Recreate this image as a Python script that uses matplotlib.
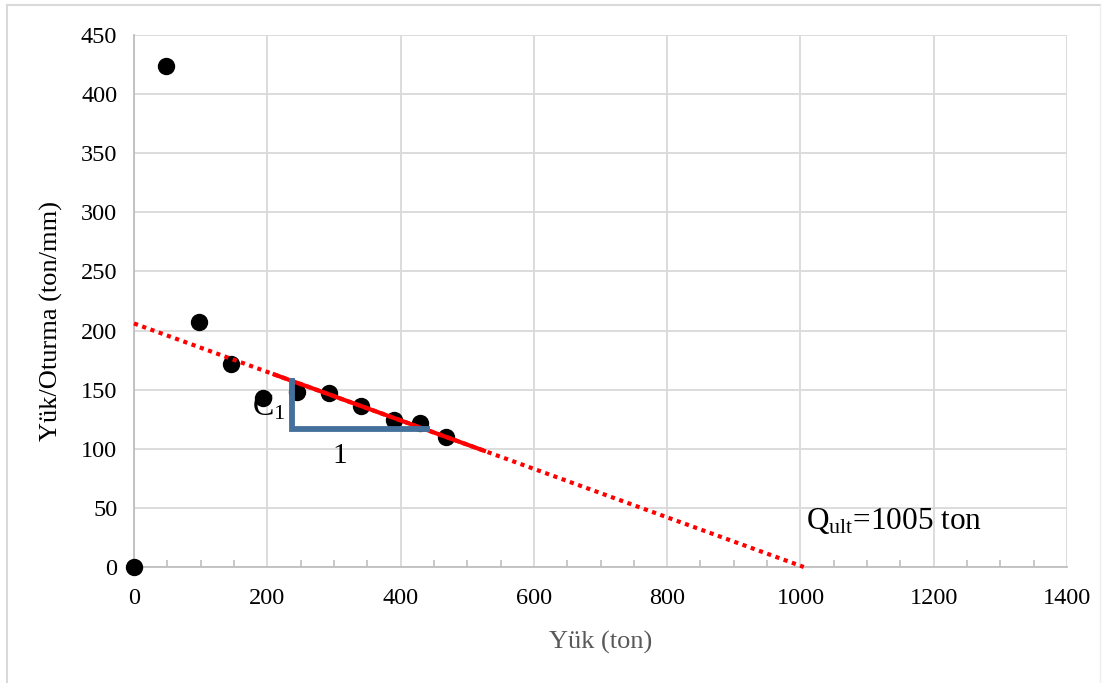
import matplotlib
matplotlib.use("Agg")
import matplotlib.pyplot as plt
from matplotlib.lines import Line2D
import numpy as np

# Load test: applied load (ton) vs. load/settlement ratio (ton/mm)
yuk = [0, 48, 97, 146, 194, 244, 292, 341, 390, 429, 468]
yuk_oturma = [0, 424, 207, 172, 143, 148, 147, 136, 124, 122, 110]

# Fitted straight line (Chin method): intercept on the ratio axis and the load where it reaches zero
intercept = 206
q_ult = 1005
fit_start, fit_end = 208, 528

# Slope triangle
tri_x = [237, 237, 444]
tri_y = [160, 116.5, 116.5]

x_ticks = list(range(0, 1401, 200))
y_ticks = list(range(0, 451, 50))

plt.rcParams["font.family"] = ["Liberation Serif", "DejaVu Serif"]
plt.rcParams["mathtext.fontset"] = "custom"
plt.rcParams["mathtext.rm"] = "Liberation Serif"
plt.rcParams["mathtext.it"] = "Liberation Serif:italic"

W, H = 1103, 683
fig = plt.figure(figsize=(W / 100, H / 100), dpi=100)
ax = fig.add_axes([134 / W, 1 - 567 / H, (1067 - 134) / W, (567 - 35) / H])

grid_c = "#d9d9d9"
ax.set_xlim(0, 1400)
ax.set_ylim(0, 450)
ax.set_xticks(x_ticks)
ax.set_yticks(y_ticks)
ax.set_xticks(np.arange(0, 1401, 50), minor=True)
ax.grid(True, which="major", color=grid_c, lw=1.3)
ax.set_axisbelow(True)
for s in ["top", "right"]:
    ax.spines[s].set_visible(False)
for s in ["left", "bottom"]:
    ax.spines[s].set_color("#bfbfbf")
    ax.spines[s].set_linewidth(1.3)
ax.tick_params(axis="both", which="major", length=0, labelsize=17.5, labelcolor="black")
ax.tick_params(axis="x", which="major", pad=15)
ax.tick_params(axis="y", which="major", pad=12)
ax.tick_params(axis="x", which="minor", direction="in", length=5, color="#bfbfbf", width=1.2)

# Fitted line: dotted across the whole range, solid over the fitted span
xs = np.array([0, q_ult])
ax.plot(xs, intercept * (1 - xs / q_ult), color="#ff0000", lw=3,
        linestyle=(0, (1, 1.1)), solid_capstyle="butt", zorder=4, clip_on=False)
xf = np.array([fit_start, fit_end])
ax.plot(xf, intercept * (1 - xf / q_ult), color="#ff0000", lw=3,
        solid_capstyle="butt", zorder=5)

ax.plot(yuk, yuk_oturma, "o", color="black", ms=11.5, zorder=3, clip_on=False)

ax.plot(tri_x, tri_y, color="#44709c", lw=4.2, solid_joinstyle="miter",
        solid_capstyle="butt", zorder=6)

ax.text(177, 128, r"C$_{\mathregular{1}}$", fontsize=23, zorder=7)
ax.text(309, 88, "1", fontsize=21, ha="center", va="baseline", zorder=7)
ax.text(1009, 32, r"Q$_{\mathregular{ult}}$=1005 ton", fontsize=22.5, va="baseline", zorder=7)

ax.set_xlabel("Yük (ton)", fontsize=19, color="#595959", labelpad=16)
ax.set_ylabel("Yük/Oturma (ton/mm)", fontsize=19, color="black")
ax.yaxis.set_label_coords((63 - 134) / 933, (567 - 321) / 532)

# Light outer frame
fig.add_artist(Line2D([7 / W, 7 / W], [0, 1 - 5 / H], color="#d9d9d9", lw=1.5, transform=fig.transFigure))
fig.add_artist(Line2D([7 / W, 1100 / W], [1 - 5 / H, 1 - 5 / H], color="#d9d9d9", lw=1.5, transform=fig.transFigure))
fig.add_artist(Line2D([1100 / W, 1100 / W], [0, 1 - 5 / H], color="#eeeeee", lw=1, transform=fig.transFigure))

fig.savefig("out.png", dpi=100)
